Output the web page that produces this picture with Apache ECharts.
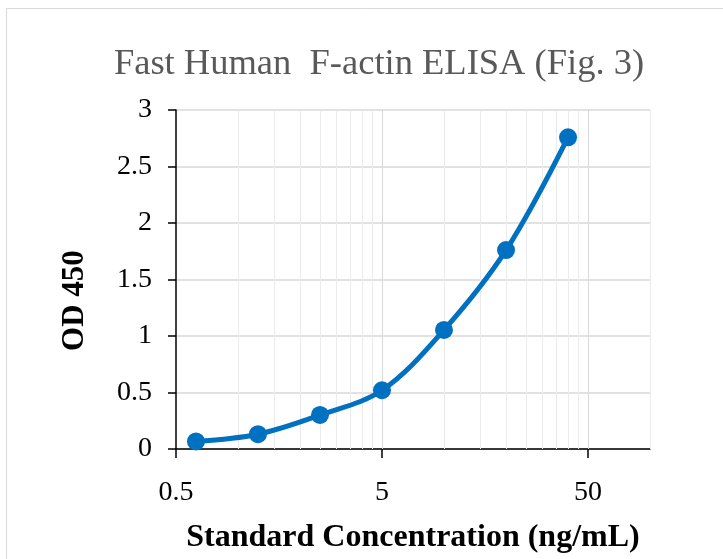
<!DOCTYPE html>
<html>
<head>
<meta charset="utf-8">
<title>Fast Human F-actin ELISA (Fig. 3)</title>
<script src="https://cdn.jsdelivr.net/npm/echarts@6/dist/echarts.min.js"></script>
<style>
	html, body { margin: 0; padding: 0; background: #ffffff; }
	#chart { width: 723px; height: 559px; }
</style>
</head>
<body>
<div id="chart"></div>
<script>
	// standard curve
	var concentrations = [0.625, 1.25, 2.5, 5, 10, 20, 40];
	var od450 = [0.067, 0.131, 0.301, 0.52, 1.054, 1.76, 2.758];

	// axis ticks
	var xLabelTicks = [0.5, 5, 50];
	var xMajorGrid = [5, 50];
	var xMinorGrid = [1, 1.5, 2, 2.5, 3, 3.5, 4, 4.5, 10, 15, 20, 25, 30, 35, 40, 45, 100];

	var FONT = 'Liberation Serif, Times New Roman, serif';

	// vertical gridlines of the log axis, kept under the curve
	function gridLines(values, color){
		var d = [];
		for(var i = 0; i < values.length; i++){
			d.push({ xAxis: values[i] });
		}
		return {
			silent: true,
			z: 1,
			symbol: ['none', 'none'],
			label: { show: false },
			animation: false,
			lineStyle: { color: color, width: 1, type: 'solid' },
			emphasis: { disabled: true },
			data: d
		};
	}

	var points = [];
	for(var i = 0; i < concentrations.length; i++){
		points.push([concentrations[i], od450[i]]);
	}

	var option = {
		backgroundColor: '#ffffff',
		animation: false,

		title: {
			text: 'Fast Human  F-actin ELISA (Fig. 3)',
			left: 374,
			textAlign: 'center',
			top: 41,
			textStyle: {
				fontFamily: FONT,
				fontSize: 36.5,
				fontWeight: 'normal',
				color: '#595959'
			}
		},

		graphic: [{
			type: 'rect',
			shape: { x: 6.5, y: 8.5, width: 800, height: 700 },
			style: { fill: 'none', stroke: '#d9d9d9', lineWidth: 1 },
			silent: true
		}],

		grid: {
			left: 176,
			right: 73,
			top: 110,
			bottom: 106,
			containLabel: false
		},

		xAxis: {
			type: 'log',
			logBase: 10,
			min: 0.5,
			max: 100,
			name: 'Standard Concentration (ng/mL)',
			nameLocation: 'middle',
			nameGap: 73,
			nameTextStyle: {
				fontFamily: FONT,
				fontSize: 32,
				fontWeight: 'bold',
				color: '#000000'
			},
			axisLine: { lineStyle: { color: '#000000', width: 1.5 } },
			axisTick: {
				show: true,
				inside: false,
				length: 9,
				customValues: xLabelTicks,
				lineStyle: { color: '#000000', width: 1.5 }
			},
			axisLabel: {
				customValues: xLabelTicks,
				margin: 30,
				fontFamily: FONT,
				fontSize: 28,
				color: '#000000'
			},
			splitLine: { show: false }
		},

		yAxis: {
			type: 'value',
			min: 0,
			max: 3,
			interval: 0.5,
			name: 'OD 450',
			nameLocation: 'middle',
			nameGap: 86,
			nameRotate: 90,
			nameTextStyle: {
				fontFamily: FONT,
				fontSize: 31,
				fontWeight: 'bold',
				color: '#000000',
				padding: [0, 42, 0, 0]
			},
			axisLine: { show: true, lineStyle: { color: '#000000', width: 1.5 } },
			axisTick: {
				show: true,
				inside: false,
				length: 8,
				lineStyle: { color: '#000000', width: 1.5 }
			},
			axisLabel: {
				margin: 24,
				fontFamily: FONT,
				fontSize: 28,
				color: '#000000'
			},
			splitLine: { show: true, lineStyle: { color: '#d9d9d9', width: 1.5 } }
		},

		series: [
			{
				// minor vertical gridlines
				type: 'line',
				data: [],
				z: 1,
				markLine: gridLines(xMinorGrid, '#ebebeb')
			},
			{
				// major vertical gridlines
				type: 'line',
				data: [],
				z: 1,
				markLine: gridLines(xMajorGrid, '#d9d9d9')
			},
			{
				type: 'line',
				data: points,
				z: 3,
				smooth: 0.35,
				symbol: 'circle',
				symbolSize: 18,
				itemStyle: { color: '#0070c0' },
				lineStyle: { color: '#0070c0', width: 5 }
			}
		]
	};

	var chart = echarts.init(document.getElementById('chart'), null, { renderer: 'canvas' });
	chart.setOption(option);
</script>
</body>
</html>
